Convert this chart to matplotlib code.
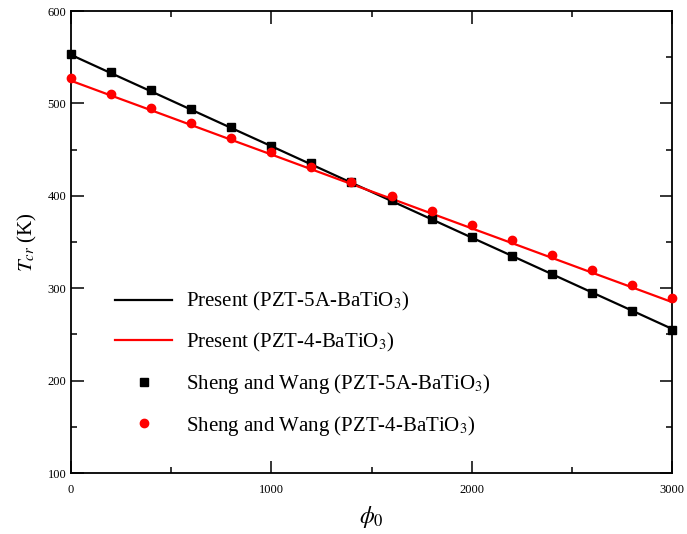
import numpy as np
import matplotlib
matplotlib.use("Agg")
import matplotlib.pyplot as plt
from matplotlib.ticker import MultipleLocator

plt.rcParams["font.family"] = ["Liberation Serif", "DejaVu Serif"]
plt.rcParams["mathtext.fontset"] = "stix"

phi = [0, 200, 400, 600, 800, 1000, 1200, 1400, 1600, 1800, 2000, 2200, 2400, 2600, 2800, 3000]

# present results (lines)
present_5a = [552.5, 532.7, 513.0, 493.2, 473.4, 453.7, 433.9, 414.1, 394.4, 374.6,
              354.8, 335.1, 315.3, 295.5, 275.8, 256.0]
present_4 = [524.5, 508.5, 492.6, 476.6, 460.6, 444.7, 428.7, 412.7, 396.8, 380.8,
             364.8, 348.9, 332.9, 316.9, 301.0, 285.0]

# Sheng and Wang (markers)
sheng_5a = [553, 534, 514, 494, 474, 454, 435, 415, 395, 375, 355, 335, 315, 295, 275, 255]
sheng_4 = [527, 510, 495, 479, 463, 447, 431, 415, 400, 384, 368, 352, 336, 320, 304, 289]

fig = plt.figure(figsize=(6.87, 5.34), dpi=100)
ax = fig.add_axes([0.1034, 0.1142, 0.8748, 0.8652])

ax.plot(phi, present_5a, color="black", lw=1.6, label="Present (PZT-5A-BaTiO$_3$)")
ax.plot(phi, present_4, color="#ff0000", lw=1.6, label="Present (PZT-4-BaTiO$_3$)")
ax.plot(phi, sheng_5a, ls="none", marker="s", ms=5.5, color="black",
        label="Sheng and Wang (PZT-5A-BaTiO$_3$)", clip_on=False, zorder=5)
ax.plot(phi, sheng_4, ls="none", marker="o", ms=6, color="#ff0000",
        label="Sheng and Wang (PZT-4-BaTiO$_3$)", clip_on=False, zorder=5)

ax.set_xlim(0, 3000)
ax.set_ylim(100, 600)
ax.xaxis.set_major_locator(MultipleLocator(1000))
ax.xaxis.set_minor_locator(MultipleLocator(500))
ax.yaxis.set_major_locator(MultipleLocator(100))
ax.yaxis.set_minor_locator(MultipleLocator(50))
ax.tick_params(which="both", direction="in", top=True, right=True, labelsize=9, width=1.1)
ax.tick_params(which="major", length=9)
ax.tick_params(which="minor", length=4.5)
ax.tick_params(axis="x", pad=8)
for s in ax.spines.values():
    s.set_linewidth(1.3)

ax.set_xlabel(r"$\phi_0$", fontsize=17, labelpad=6)
ax.set_ylabel(r"$T_{cr}$ (K)", fontsize=15, labelpad=6)

ax.legend(loc="upper left", bbox_to_anchor=(0.042, 0.436), frameon=False, fontsize=15,
          handlelength=2.75, labelspacing=0.85, handletextpad=0.65)

fig.savefig("out.png", dpi=100)
